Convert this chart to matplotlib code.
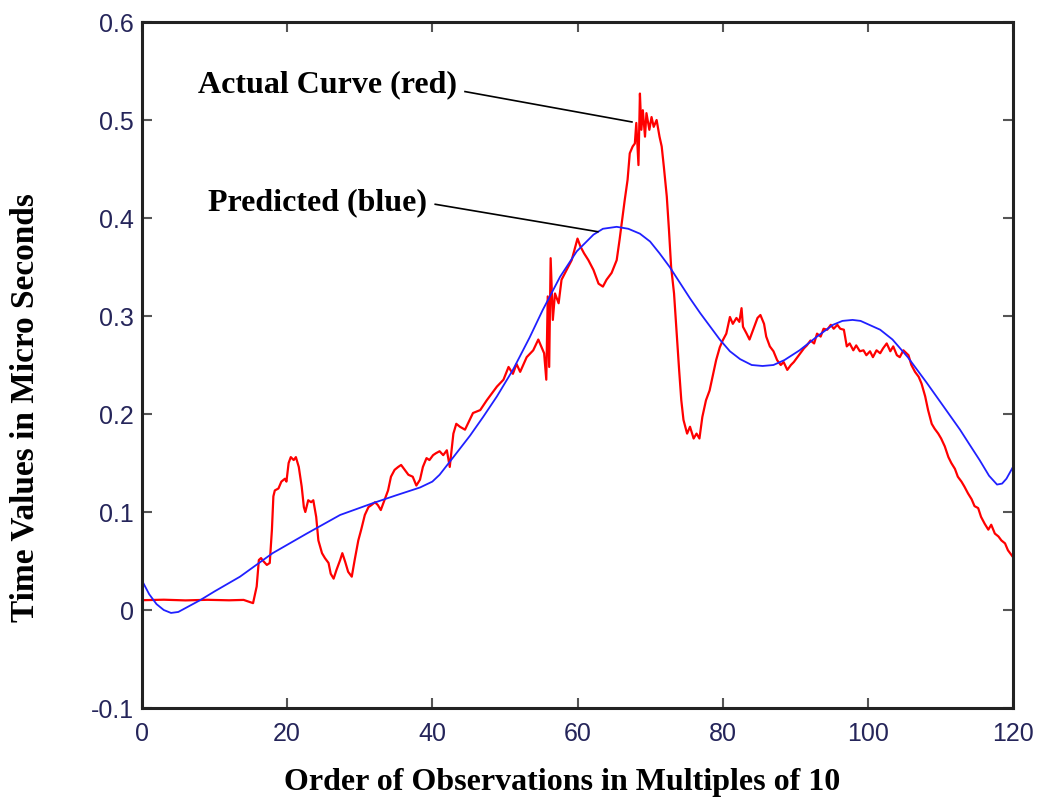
import matplotlib
matplotlib.use("Agg")
import matplotlib.pyplot as plt

# red curve (actual)
actual_x = [0, 3, 6, 9, 12, 14, 15.3, 15.8, 16.1, 16.4, 16.7, 17.2, 17.6, 17.9, 18.1, 18.3,
            18.8, 19.2, 19.7, 19.9, 20.2, 20.5, 20.9, 21.2, 21.6, 22.0, 22.3, 22.5, 22.9, 23.3,
            23.6, 24.0, 24.3, 24.8, 25.2, 25.7, 26.0, 26.4, 26.8, 27.3, 27.6, 28.0, 28.4, 28.9,
            29.3, 29.8, 30.2, 30.7, 31.2, 31.6, 32.1, 32.5, 32.9, 33.4, 33.9, 34.3, 34.8, 35.3,
            35.7, 36.2, 36.7, 37.3, 37.8, 38.3, 38.7, 39.2, 39.6, 40.1, 40.5, 41.0, 41.5, 42.0,
            42.4, 42.9, 43.3, 43.8, 44.5, 45.6, 46.6, 47.5, 48.2, 48.9, 49.8, 50.5, 51.1, 51.6,
            52.1, 53.0, 53.9, 54.6, 55.0, 55.4, 55.7, 55.9, 56.1, 56.3, 56.6, 56.9, 57.4, 57.8,
            58.5, 59.2, 59.7, 60.0, 60.4, 60.9, 61.5, 62.2, 62.9, 63.5, 64.0, 64.7, 65.4, 65.8,
            66.1, 66.5, 66.9, 67.2, 67.6, 67.9, 68.1, 68.4, 68.6, 68.8, 69.0, 69.3, 69.5, 69.9,
            70.2, 70.5, 70.9, 71.3, 71.6, 71.9, 72.3, 72.6, 72.9, 73.3, 73.6, 74.0, 74.3, 74.6,
            75.1, 75.5, 76.0, 76.4, 76.8, 77.2, 77.7, 78.2, 78.6, 79.1, 79.6, 80.0, 80.5, 81.0,
            81.4, 81.9, 82.3, 82.6, 82.8, 83.3, 83.7, 84.2, 84.8, 85.2, 85.7, 86.0, 86.5, 87.0,
            87.5, 88.0, 88.4, 88.9, 89.4, 89.8, 90.3, 90.7, 91.2, 91.6, 92.1, 92.6, 93.0, 93.5,
            93.9, 94.4, 94.9, 95.3, 95.8, 96.2, 96.7, 97.1, 97.5, 98.0, 98.4, 98.9, 99.4, 99.8,
            100.3, 100.7, 101.2, 101.7, 102.1, 102.6, 103.1, 103.5, 104.0, 104.4, 104.9, 105.6,
            106.0, 106.5, 107.0, 107.4, 107.9, 108.3, 108.8, 109.2, 109.7, 110.1, 110.6, 111.1,
            111.5, 112.0, 112.4, 112.9, 113.3, 113.8, 114.3, 114.7, 115.2, 115.6, 116.1, 116.6,
            117.0, 117.5, 118.0, 118.4, 118.9, 119.3, 119.8, 120]
actual_y = [0.010, 0.0105, 0.0098, 0.0104, 0.0099, 0.0103, 0.007, 0.024, 0.051, 0.053, 0.050,
            0.046, 0.048, 0.082, 0.116, 0.122, 0.124, 0.131, 0.134, 0.131, 0.150, 0.156, 0.153,
            0.156, 0.146, 0.126, 0.105, 0.100, 0.112, 0.110, 0.112, 0.095, 0.071, 0.058, 0.053,
            0.048, 0.037, 0.032, 0.041, 0.051, 0.058, 0.049, 0.039, 0.034, 0.051, 0.071, 0.082,
            0.097, 0.105, 0.107, 0.110, 0.107, 0.102, 0.112, 0.122, 0.136, 0.143, 0.146, 0.148,
            0.143, 0.138, 0.136, 0.127, 0.133, 0.146, 0.155, 0.153, 0.158, 0.160, 0.162, 0.158,
            0.163, 0.146, 0.180, 0.190, 0.187, 0.184, 0.201, 0.204, 0.214, 0.221, 0.228, 0.235,
            0.248, 0.241, 0.251, 0.243, 0.258, 0.265, 0.276, 0.269, 0.262, 0.235, 0.320, 0.248,
            0.359, 0.296, 0.323, 0.313, 0.337, 0.347, 0.357, 0.371, 0.379, 0.371, 0.364, 0.357,
            0.347, 0.333, 0.330, 0.337, 0.344, 0.357, 0.378, 0.395, 0.418, 0.439, 0.466, 0.473,
            0.476, 0.497, 0.454, 0.527, 0.490, 0.510, 0.483, 0.507, 0.490, 0.503, 0.493, 0.500,
            0.483, 0.473, 0.452, 0.422, 0.388, 0.350, 0.323, 0.289, 0.245, 0.214, 0.194, 0.180,
            0.187, 0.175, 0.180, 0.175, 0.197, 0.214, 0.224, 0.238, 0.255, 0.268, 0.275, 0.282,
            0.299, 0.292, 0.298, 0.294, 0.308, 0.289, 0.282, 0.276, 0.286, 0.298, 0.301, 0.292,
            0.279, 0.269, 0.264, 0.255, 0.250, 0.253, 0.245, 0.250, 0.253, 0.258, 0.262, 0.267,
            0.270, 0.275, 0.272, 0.282, 0.279, 0.287, 0.286, 0.291, 0.287, 0.291, 0.287, 0.286,
            0.269, 0.272, 0.265, 0.270, 0.264, 0.265, 0.260, 0.264, 0.258, 0.265, 0.262, 0.267,
            0.272, 0.264, 0.269, 0.260, 0.258, 0.265, 0.260, 0.250, 0.243, 0.238, 0.231, 0.218,
            0.204, 0.190, 0.185, 0.180, 0.175, 0.167, 0.156, 0.150, 0.144, 0.136, 0.131, 0.126,
            0.119, 0.113, 0.106, 0.104, 0.095, 0.088, 0.082, 0.087, 0.078, 0.075, 0.071, 0.068,
            0.061, 0.056, 0.054]

# blue curve (predicted)
pred_x = [0, 1, 2, 3, 4, 5, 6, 8, 10, 13.5, 18, 22.7, 27.3, 31.8, 35, 38.3, 40, 41, 42.9,
          45.2, 47, 48.9, 51.1, 53.4, 55.2, 57.6, 59.9, 62.2, 63.5, 65.4, 67, 68.6, 70,
          71.3, 72.7, 74.1, 75.5, 76.9, 78.3, 79.6, 81, 82.4, 84, 85.5, 87, 88.5, 90.6, 93,
          95.2, 96.5, 97.9, 99, 101.7, 103.4, 105.5, 108.1, 110.5, 112.7, 114, 115.4, 116.7,
          117.8, 118.5, 119.1, 120]
pred_y = [0.030, 0.016, 0.006, 0.000, -0.003, -0.002, 0.002, 0.010, 0.019, 0.034, 0.058,
          0.078, 0.097, 0.109, 0.117, 0.125, 0.131, 0.138, 0.156, 0.178, 0.197, 0.218, 0.245,
          0.278, 0.306, 0.340, 0.366, 0.383, 0.389, 0.391, 0.389, 0.384, 0.376, 0.364, 0.350,
          0.334, 0.318, 0.303, 0.289, 0.276, 0.264, 0.256, 0.250, 0.249, 0.250, 0.255, 0.265,
          0.279, 0.291, 0.295, 0.296, 0.295, 0.286, 0.276, 0.258, 0.232, 0.207, 0.184, 0.169,
          0.153, 0.137, 0.128, 0.129, 0.134, 0.146]

x_ticks = [0, 20, 40, 60, 80, 100, 120]
y_ticks = [-0.1, 0, 0.1, 0.2, 0.3, 0.4, 0.5, 0.6]
y_tick_labels = ['-0.1', '0', '0.1', '0.2', '0.3', '0.4', '0.5', '0.6']

fig = plt.figure(figsize=(10.37, 8.05), dpi=100)
ax = fig.add_axes([142 / 1037, 1 - 708 / 805, 871 / 1037, 686 / 805])

ax.plot(actual_x, actual_y, color='#ff0000', lw=1.6)
ax.plot(pred_x, pred_y, color='#2020ff', lw=1.3)

ax.set_xlim(0, 120)
ax.set_ylim(-0.1, 0.6)
ax.set_xticks(x_ticks)
ax.set_yticks(y_ticks)
ax.set_yticklabels(y_tick_labels)
ax.tick_params(direction='in', length=7, width=1.5, color='#555555',
               top=True, right=True, labelsize=18, labelcolor='#25255a')
ax.tick_params(axis='x', pad=10)
ax.tick_params(axis='y', pad=6)
for lab in ax.get_xticklabels() + ax.get_yticklabels():
    lab.set_family('Liberation Sans')
for sp in ax.spines.values():
    sp.set_linewidth(2.2)
    sp.set_color('#222222')

# annotations with leader lines
serif = 'Liberation Serif'
ax.plot([44.5, 67.5], [0.529, 0.498], color='black', lw=1.2)
ax.plot([40.4, 62.8], [0.414, 0.386], color='black', lw=1.2)
ax.text(7.7, 0.536, 'Actual Curve (red)', family=serif, fontweight='bold',
        fontsize=23, va='center', ha='left')
ax.text(9.1, 0.416, 'Predicted (blue)', family=serif, fontweight='bold',
        fontsize=23, va='center', ha='left')

fig.text(562 / 1037, 1 - 782 / 805, 'Order of Observations in Multiples of 10',
         family=serif, fontweight='bold', fontsize=23, ha='center', va='center')
fig.text(25 / 1037, 1 - 408 / 805, 'Time Values in Micro Seconds',
         family=serif, fontweight='bold', fontsize=24, ha='center', va='center',
         rotation=90)

fig.savefig('out.png', dpi=100)
